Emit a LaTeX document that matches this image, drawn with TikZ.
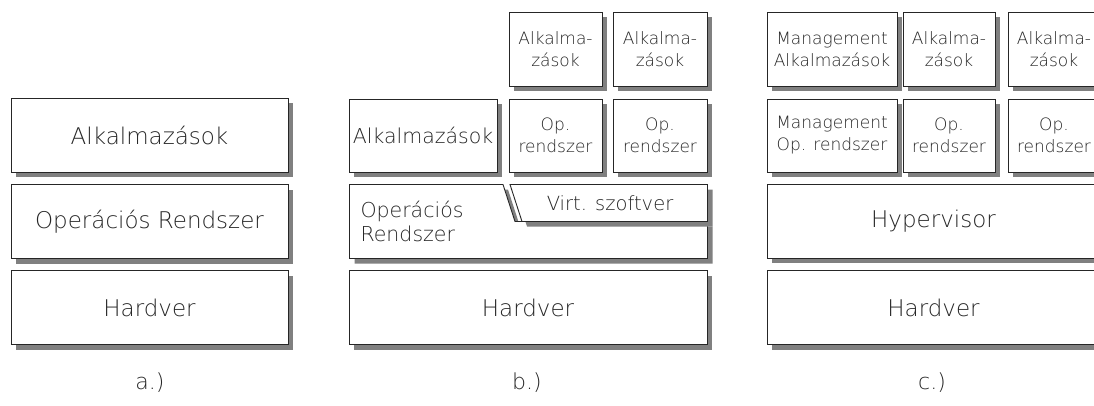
\documentclass[tikz,border=0pt]{standalone}
\usepackage{fontspec}
\setmainfont{DejaVuSans-ExtraLight.ttf}
\usetikzlibrary{shadows}
\tikzset{
  boxshadow/.style={drop shadow={shadow xshift=5pt, shadow yshift=-5pt, fill=black!50, opacity=1}},
  layer/.style={draw=black!85, line width=0.9pt, fill=white, inner sep=0pt,
    align=center, text=black!85, boxshadow},
  notchbox/.style={draw=black!85, line width=0.9pt, fill=white},
  notchshadow/.style={fill=black!50, shift={(5,5)}},
  bigtxt/.style={font=\fontsize{23}{27}\selectfont},
  midtxt/.style={font=\fontsize{20.5}{24}\selectfont},
  smalltxt/.style={font=\fontsize{17}{22}\selectfont},
  caption/.style={font=\fontsize{22}{26}\selectfont, text=black!85},
}
\begin{document}
\begin{tikzpicture}[x=1pt, y=-1pt]
\useasboundingbox (0,0) rectangle (1094,405);
\begin{scope}
\clip (0,0) rectangle (1094,405);

% --- a.) classic stack
\node[layer, bigtxt, minimum width=277pt, minimum height=74pt] (aApp) at (149.5,135) {Alkalmazások};
\node[layer, bigtxt, minimum width=277pt, minimum height=74pt] (aOS)  at (149.5,221.5) {Operációs Rendszer};
\node[layer, bigtxt, minimum width=277pt, minimum height=74pt] (aHw)  at (149.5,307.5) {Hardver};

% --- b.) hosted virtualisation
\node[layer, bigtxt, minimum width=358pt, minimum height=74pt] (bHw) at (528,307.5) {Hardver};
% host OS with a notch for the virtualisation software
\fill[notchshadow] (349.5,184.5) -- (503,184.5) -- (515,221.5) -- (707.5,221.5) -- (707.5,258.5) -- (349.5,258.5) -- cycle;
\draw[notchbox] (349.5,184.5) -- (503,184.5) -- (515,221.5) -- (707.5,221.5) -- (707.5,258.5) -- (349.5,258.5) -- cycle;
\node[midtxt, align=left, anchor=west, text=black!85] (bOS) at (357,221) {Operációs\\Rendszer};
\fill[notchshadow] (510,184.5) -- (707.5,184.5) -- (707.5,221.5) -- (522,221.5) -- cycle;
\draw[notchbox] (510,184.5) -- (707.5,184.5) -- (707.5,221.5) -- (522,221.5) -- cycle;
\node[text=black!85, font=\fontsize{19.5}{23}\selectfont] (bVirt) at (610,203) {Virt. szoftver};
\node[layer, midtxt, minimum width=148pt, minimum height=73pt] (bApp) at (423,135.5) {Alkalmazások};
\node[layer, smalltxt, minimum width=93pt, minimum height=73pt] (bOS1) at (555.5,135.5) {Op.\\rendszer};
\node[layer, smalltxt, minimum width=94pt, minimum height=73pt] (bOS2) at (660,135.5) {Op.\\rendszer};
\node[layer, smalltxt, minimum width=93pt, minimum height=74pt] (bApp1) at (555.5,49) {Alkalma-\\zások};
\node[layer, smalltxt, minimum width=94pt, minimum height=74pt] (bApp2) at (660,49) {Alkalma-\\zások};

% --- c.) bare-metal hypervisor
\node[layer, bigtxt, minimum width=333pt, minimum height=74pt] (cHw)  at (933.5,307.5) {Hardver};
\node[layer, bigtxt, minimum width=333pt, minimum height=74pt] (cHyp) at (933.5,221) {Hypervisor};
\node[layer, smalltxt, minimum width=130pt, minimum height=73pt] (cMOS) at (832,135.5) {Management\\Op. rendszer};
\node[layer, smalltxt, minimum width=92pt, minimum height=73pt] (cOS1) at (949,135.5) {Op.\\rendszer};
\node[layer, smalltxt, minimum width=92pt, minimum height=73pt] (cOS2) at (1054,135.5) {Op.\\rendszer};
\node[layer, smalltxt, minimum width=130pt, minimum height=74pt] (cMApp) at (832,49) {Management\\Alkalmazások};
\node[layer, smalltxt, minimum width=92pt, minimum height=74pt] (cApp1) at (949,49) {Alkalma-\\zások};
\node[layer, smalltxt, minimum width=92pt, minimum height=74pt] (cApp2) at (1054,49) {Alkalma-\\zások};
\end{scope}

% --- captions
\node[caption] (capA) at (150,383) {a.)};
\node[caption] (capB) at (527,383) {b.)};
\node[caption] (capC) at (932,383) {c.)};
\end{tikzpicture}
\end{document}
